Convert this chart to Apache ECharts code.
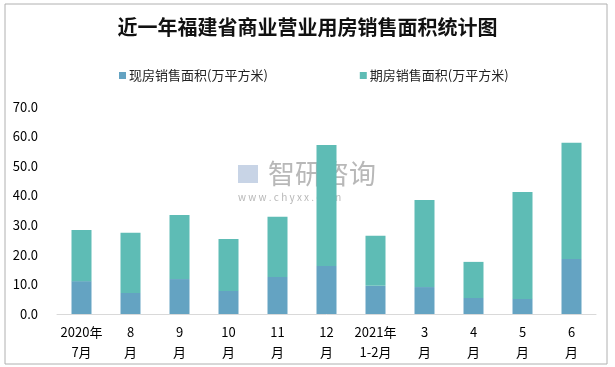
<!DOCTYPE html>
<html>
<head>
<meta charset="utf-8">
<script src="https://cdn.jsdelivr.net/npm/echarts@6/dist/echarts.min.js"></script>
<style>html,body{margin:0;padding:0;background:#fff;}#c{width:615px;height:367px;}</style>
</head>
<body>
<div id="c"></div>
<script>
const categories = ['2020年\n7月', '8\n月', '9\n月', '10\n月', '11\n月', '12\n月', '2021年\n1-2月', '3\n月', '4\n月', '5\n月', '6\n月'];
const existingArea = [11.1, 7.1, 11.8, 7.8, 12.5, 16.2, 9.5, 9.1, 5.4, 5.1, 18.6];
const totalArea = [28.4, 27.4, 33.4, 25.3, 32.8, 57.1, 26.4, 38.5, 17.6, 41.2, 57.8];
const futureArea = totalArea.map((t, i) => +(t - existingArea[i]).toFixed(1));
const seriesNames = ['现房销售面积(万平方米)', '期房销售面积(万平方米)'];
const titleText = '近一年福建省商业营业用房销售面积统计图';

const font = '"Noto Sans CJK SC", "Liberation Sans", sans-serif';
const chart = echarts.init(document.getElementById('c'));
chart.setOption({
  animation: false,
  title: {
    text: titleText, left: 'center', top: 12,
    textStyle: { fontFamily: font, fontSize: 20, fontWeight: 'bold', color: '#111' }
  },
  legend: {
    top: 64, left: 114, itemGap: 92, itemWidth: 7, itemHeight: 7, icon: 'rect',
    textStyle: { fontFamily: font, fontSize: 13, color: '#222', padding: [0, 0, 0, -2] },
    data: seriesNames
  },
  grid: { left: 57, right: 19, top: 106.7, bottom: 53 },
  xAxis: {
    type: 'category', data: categories,
    axisLine: { lineStyle: { color: '#d9d9d9' } },
    axisTick: { show: false },
    axisLabel: { fontFamily: font, fontSize: 13, color: '#000', lineHeight: 20, margin: 8, interval: 0 }
  },
  yAxis: {
    type: 'value', min: 0, max: 70, interval: 10,
    axisLine: { show: false }, axisTick: { show: false }, splitLine: { show: false },
    axisLabel: { fontFamily: font, fontSize: 13, color: '#000', margin: 19, formatter: v => v.toFixed(1) }
  },
  graphic: [
    { type: 'rect', shape: { x: 5, y: 4, width: 602, height: 360 }, style: { fill: 'none', stroke: '#b0b0b0', lineWidth: 1 }, z: -10 },
    { type: 'text', left: 268, top: 160, z: -10, style: { text: '智研咨询', font: '27px ' + font, fill: '#b8b8b8' } },
    { type: 'text', left: 238, top: 192, z: -10, style: { text: 'w w w . c h y x x . c o m', font: '10px ' + font, fill: '#b8b8b8' } },
    { type: 'rect', z: -10, shape: { x: 238, y: 165, width: 20, height: 18 }, style: { fill: '#c8d4e6' } }
  ],
  series: [
    { name: seriesNames[0], type: 'bar', stack: 'a', data: existingArea, barWidth: 20, itemStyle: { color: '#64a3c2' } },
    { name: seriesNames[1], type: 'bar', stack: 'a', data: futureArea, barWidth: 20, itemStyle: { color: '#5ebcb5' } }
  ]
});
</script>
</body>
</html>
